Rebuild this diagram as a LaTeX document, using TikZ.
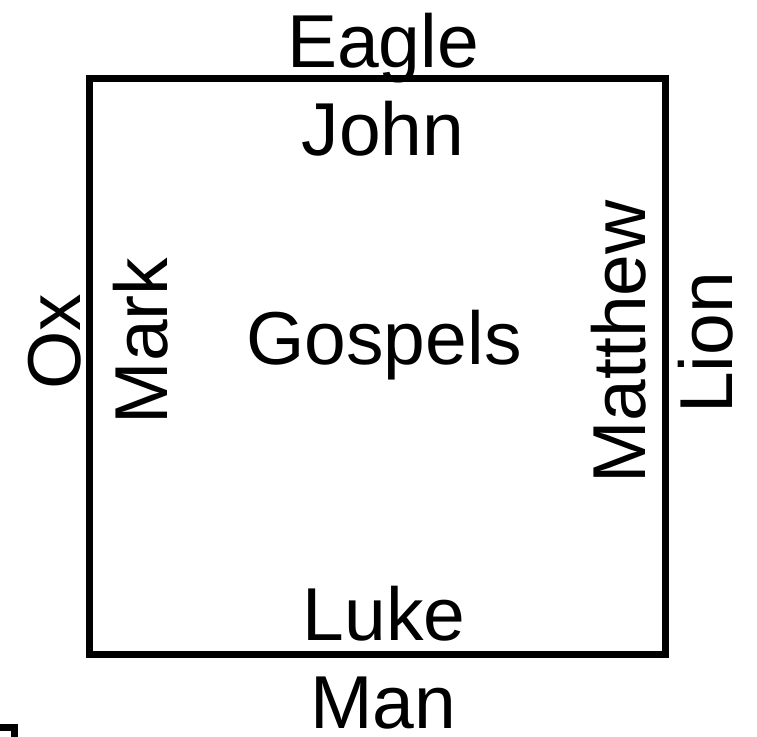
\documentclass[tikz,border=0pt]{standalone}
\usepackage{fontspec}
\setmainfont{Liberation Sans}
\usepackage{tikz}
\tikzstyle{label} =
[inner sep = 0pt, anchor = base, font = \fontsize{75}{90}\selectfont]
\tikzstyle{sidelabel} =
[label, rotate = 90]
\tikzstyle{frame} = [draw, line width = 7pt]

\begin{document}
\begin{tikzpicture}[x = 1pt, y = -1pt]
  \useasboundingbox (0,0) rectangle (757,736);
  % square
  \coordinate (nw) at (89.5,78);
  \coordinate (se) at (665,654);
  \path [frame] (nw) rectangle (se);
  % top and bottom labels
  \node [label] (eagle) at (383,67) {Eagle};
  \node [label] (john) at (383,155) {John};
  \node [label] (gospels) at (384,364) {Gospels};
  \node [label] (luke) at (384,640) {Luke};
  \node [label] (man) at (383,728) {Man};
  % side labels
  \node [sidelabel] (ox) at (80,342) {Ox};
  \node [sidelabel] (mark) at (167,341) {Mark};
  \node [sidelabel] (matthew) at (645,342) {Matthew};
  \node [sidelabel] (lion) at (732,343) {Lion};
  % corner in the bottom left
  \coordinate (cornera) at (0,727.5);
  \coordinate (cornerb) at (14.5,727.5);
  \coordinate (cornerc) at (14.5,740);
  \path [frame] (cornera) -- (cornerb) -- (cornerc);
\end{tikzpicture}
\end{document}
